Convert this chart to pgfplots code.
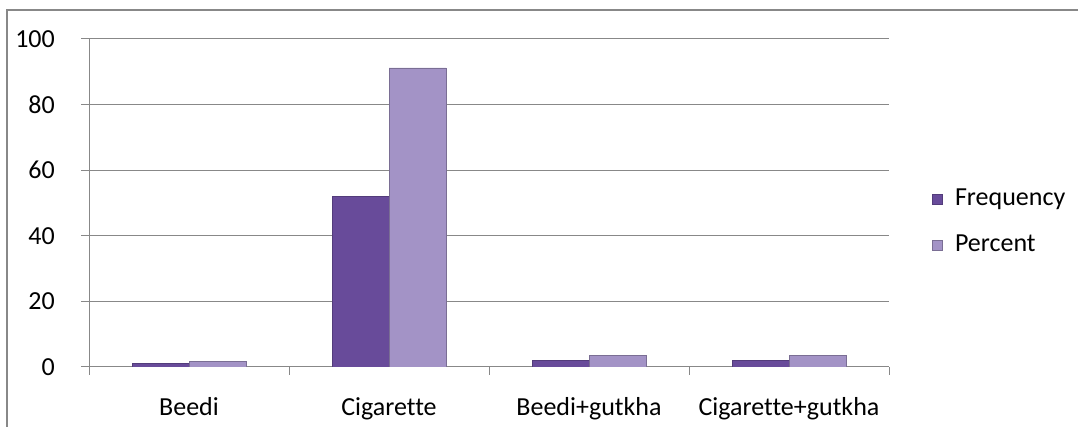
\documentclass[border=0pt]{standalone}
\usepackage{pgfplots}
\pgfplotsset{compat=1.18}
\usepackage{fontspec}
\setmainfont[Ligatures=NoCommon]{Carlito}
\definecolor{freqc}{HTML}{684B9A}
\definecolor{pctc}{HTML}{A393C6}
\definecolor{gridc}{HTML}{888888}
\begin{document}
\begin{tikzpicture}[x=1pt,y=1pt]
\useasboundingbox (0,0) rectangle (1078,427);
\clip (0,0) rectangle (1078,427);
\draw[gridc, line width=2pt] (7,-10) -- (7,417) -- (1090,417);
\begin{axis}[
  at={(189pt,60pt)}, anchor=origin,
  scale only axis, width=800pt, height=328pt,
  ymin=0, ymax=100, xmin=-0.5, xmax=3.5,
  ytick={0,20,40,60,80,100},
  xtick={-0.5,0.5,1.5,2.5,3.5},
  x tick label as interval,
  xticklabels={Beedi,Cigarette,Beedi+gutkha,Cigarette+gutkha},
  ymajorgrids, grid style={gridc, line width=1pt},
  axis x line*=bottom, axis y line*=left,
  axis line style={gridc, line width=1pt, -},
  tick style={gridc, line width=1pt},
  tick align=outside, major tick length=8pt,
  ytick pos=left, xtick pos=bottom,
  ybar, bar width=57pt,
  /pgf/number format/assume math mode=true,
  tick label style={font=\fontsize{26}{31}\selectfont, text=black},
  yticklabel style={anchor=east, inner sep=0pt, xshift=-26pt},
  xticklabel style={anchor=base, inner sep=0pt, yshift=-41pt},
  legend style={at={(axis description cs:1.054,0.442)}, anchor=west, draw=none, fill=none,
    inner sep=0pt, row sep=24pt, font=\fontsize{26}{31}\selectfont,
    nodes={text height=17pt, text depth=5pt, inner sep=0pt, anchor=west}},
  legend cell align=left,
  legend image code/.code={\fill[#1] (0pt,-5pt) rectangle (10pt,5pt);},
]
\addplot[fill=freqc, draw=freqc!80!black, line width=0.6pt, bar shift=-28.5pt] coordinates {(0,1) (1,52) (2,2) (3,2)};
\addplot[fill=pctc, draw=pctc!75!black, line width=0.6pt, bar shift=28.5pt] coordinates {(0,1.8) (1,91.2) (2,3.5) (3,3.5)};
\legend{\hspace{12pt}Frequency,\hspace{12pt}Percent}
\end{axis}
\end{tikzpicture}
\end{document}
